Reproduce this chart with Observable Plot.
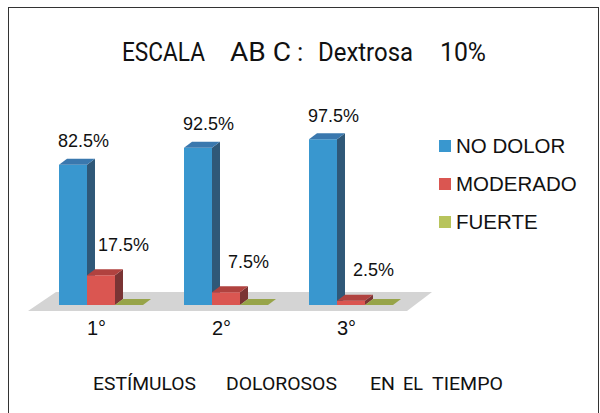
<!DOCTYPE html>
<html><head><meta charset="utf-8">
<script src="https://cdn.jsdelivr.net/npm/d3@7"></script>
<script src="https://cdn.jsdelivr.net/npm/@observablehq/plot@0.6"></script>
<style>
html,body{margin:0;padding:0;background:#fff;width:600px;height:413px;overflow:hidden;position:relative;}
#frame{position:absolute;left:8px;top:7px;width:591px;height:440px;border:1.5px solid #333;box-sizing:border-box;}
.w{font-family:Roboto,"Open Sans",sans-serif;color:#111;white-space:pre;position:absolute;line-height:1;transform-origin:0 0;}
#chart{position:absolute;left:0;top:80px;}
#legend{position:absolute;left:439px;top:0;font-family:"Liberation Sans",Arial,sans-serif;font-size:20.5px;color:#111;}
.item{position:absolute;left:0;display:flex;align-items:center;white-space:nowrap;height:24px;}
.sw{width:12px;height:12px;margin-right:5px;}
</style></head><body>
<div id="frame"></div>
<div id="title"></div>
<div id="chart"></div>
<div id="legend"></div>
<div id="caption"></div>
<script>
const categories = ["1°", "2°", "3°"];
const series = ["NO DOLOR", "MODERADO", "FUERTE"];
const noDolor = [82.5, 92.5, 97.5];
const moderado = [17.5, 7.5, 2.5];
const fuerte = [0, 0, 0];
const titleWords = ["ESCALA", "AB C", ":", "Dextrosa", "10%"];
const captionWords = ["ESTÍMULOS", "DOLOROSOS", "EN", "EL", "TIEMPO"];
const frontColors = ["#3997CF", "#DA5651", "#B8C45C"];
const sideColors = ["#2F5878", "#7A3434", "#7E8A3A"];
const topColors = ["#3A78AE", "#B0423F", "#97A449"];
const labelDx = [10, 22, 22];
const labelDy = [-18, -25, -25];

const values = [noDolor, moderado, fuerte];
const rows = [];
categories.forEach((c, ci) => series.forEach((s, si) => rows.push({category: c, series: s, value: values[si][ci]})));

const marks = [];
series.forEach((s, i) => {
  const data = rows.filter(d => d.series === s);
  const base = {fx: "category", x: "series", y: "value"};
  marks.push(Plot.barY(data, {...base, fill: frontColors[i], ariaDescription: "front"}));
  marks.push(Plot.barY(data, {...base, fill: sideColors[i], ariaDescription: "side"}));
  marks.push(Plot.barY(data, {...base, fill: topColors[i], ariaDescription: "top"}));
});
series.forEach((s, i) => {
  marks.push(Plot.text(rows.filter(d => d.series === s && d.value > 0), {
    fx: "category", x: "series", y: "value", text: d => d.value.toFixed(1) + "%",
    dx: labelDx[i], dy: labelDy[i], lineAnchor: "bottom", fontSize: 18, fill: "#111"
  }));
});
marks.push(Plot.text(categories, {fx: d => d, text: d => d, frameAnchor: "bottom", lineAnchor: "bottom", dy: 29, dx: -5, fontSize: 20, fill: "#111"}));

const plot = Plot.plot({
  width: 600, height: 270,
  marginLeft: 57, marginRight: 206, marginTop: 55, marginBottom: 45,
  x: {domain: series, padding: 0, axis: null},
  fx: {domain: categories, paddingInner: 0.315, paddingOuter: 0, axis: null, label: null},
  y: {domain: [0, 100], axis: null},
  style: {fontFamily: "'Liberation Sans', Arial, sans-serif", background: "transparent", overflow: "visible"},
  marks
});
document.getElementById("chart").appendChild(plot);

const D = 8, H = 6;
const svgNode = plot.tagName.toLowerCase() === "svg" ? plot : plot.querySelector("svg");
const svg = d3.select(svgNode);
function groupsFor(name, k) {
  const g = svg.selectAll(`g[aria-description="${name}"]`);
  if (!g.empty()) return g;
  const all = svg.selectAll('g[aria-label="bar"]').filter(function () { return this.parentNode === svgNode; }).nodes();
  return d3.selectAll(all.filter((_, j) => j % 3 === k));
}
groupsFor("side", 1).selectAll("rect").each(function () {
  const r = d3.select(this);
  const x = +r.attr("x"), w = +r.attr("width");
  const xr = x + w;
  const a = Math.atan2(-H, D) * 180 / Math.PI;
  r.attr("x", xr).attr("width", D)
   .attr("transform", `translate(${xr},0) skewY(${a}) translate(${-xr},0)`);
});
groupsFor("top", 2).selectAll("rect").each(function () {
  const r = d3.select(this);
  const y = +r.attr("y");
  const b = Math.atan(-D / H) * 180 / Math.PI;
  r.attr("y", y - H).attr("height", H)
   .attr("transform", `translate(0,${y}) skewX(${b}) translate(0,${-y})`);
});

// floor
const fxRange = plot.scale("fx").range;
const yScale = Plot.scale({y: plot.scale("y")});
const yb = yScale.apply(0);
const r0 = fxRange[0], r1 = fxRange[1];
const pts = [[r0 - 29, yb + 6], [r1 + 13, yb + 6], [r1 + 38, yb - 13], [r0 - 1, yb - 13]];
svg.insert("polygon", "g").attr("points", pts.map(p => p.join(",")).join(" ")).attr("fill", "#D4D4D4");

// legend
const legend = d3.select("#legend");
series.forEach((s, i) => {
  const it = legend.append("div").attr("class", "item").style("top", (134 + i * 38) + "px");
  it.append("div").attr("class", "sw").style("background", frontColors[i]);
  it.append("span").text(s);
});

// title and caption words, fitted to the reference's word extents
function placeWords(container, words, spans, baseline, size) {
  const el = document.getElementById(container);
  words.forEach((w, i) => {
    const s = document.createElement("span");
    s.className = "w";
    s.textContent = w;
    s.style.fontSize = size + "px";
    s.style.left = spans[i][0] + "px";
    s.style.top = (baseline - 0.842 * size) + "px";
    el.appendChild(s);
    const nat = s.getBoundingClientRect().width;
    const target = spans[i][1] - spans[i][0];
    if (nat > 0 && w.length > 1) s.style.transform = `scaleX(${target / nat})`;
  });
}
placeWords("title", titleWords, [[122, 205], [230, 291], [297, 302], [318, 413], [440, 486]], 61, 26);
placeWords("caption", captionWords, [[93, 196], [226, 337], [370, 395], [403, 423], [432, 503]], 390, 19);
</script>
</body></html>
